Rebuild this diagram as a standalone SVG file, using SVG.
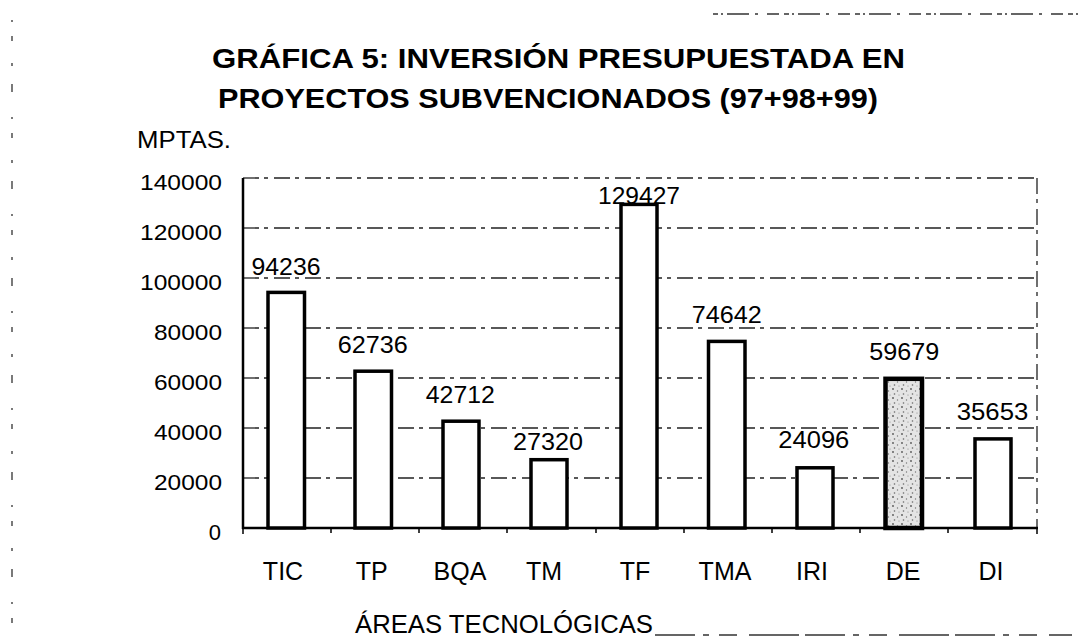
<svg xmlns="http://www.w3.org/2000/svg" width="1086" height="637" viewBox="0 0 1086 637">
  <style>
    .title { font-family: "Liberation Sans", Arial, sans-serif; font-weight: bold; font-size: 28px; fill: #000; }
    .lbl { font-family: "Liberation Sans", Arial, sans-serif; fill: #000; }
    .ytick { font-size: 22px; text-anchor: end; }
    .val { font-size: 24px; text-anchor: middle; }
    .cat { font-size: 25px; text-anchor: middle; }
    .grid { stroke: #222; stroke-width: 1.3; stroke-dasharray: 16 5 4 6; fill: none; }
    .axis { stroke: #000; stroke-width: 2.5; fill: none; }
    .tick { stroke: #000; stroke-width: 1.5; }
    .bar { fill: #fff; stroke: #000; stroke-width: 3.5; }
    .bar-de { fill: url(#stipple); stroke: #000; stroke-width: 4.5; }
    .scan { stroke: #333; stroke-width: 1.3; fill: none; }
  </style>
  <defs>
    <pattern id="stipple" width="9" height="9" patternUnits="userSpaceOnUse">
      <rect width="9" height="9" fill="#e4e4e4"/>
      <circle cx="2" cy="2" r="0.9" fill="#555"/>
      <circle cx="6.5" cy="4" r="0.7" fill="#777"/>
      <circle cx="3.5" cy="7" r="0.8" fill="#666"/>
      <circle cx="8" cy="8" r="0.6" fill="#888"/>
    </pattern>
  </defs>
  <rect width="1086" height="637" fill="#fff"/>

  <!-- scan edge marks -->
  <g id="scan-marks">
    <line class="scan" x1="713" y1="14" x2="1080" y2="14" stroke-dasharray="5 3 2 4 22 6 3 9 12 5"/>
    <line class="scan" x1="655" y1="635" x2="1072" y2="635" stroke-dasharray="40 8 6 10 18 12 50 6"/>
    <line class="scan" x1="12" y1="20" x2="12" y2="632" stroke-dasharray="2 14 5 22 3 18 8 25"/>
  </g>

  <!-- title -->
  <g id="title">
    <text class="title" x="212" y="68" textLength="693" lengthAdjust="spacingAndGlyphs">GRÁFICA 5: INVERSIÓN PRESUPUESTADA EN</text>
    <text class="title" x="218" y="108" textLength="660" lengthAdjust="spacingAndGlyphs">PROYECTOS SUBVENCIONADOS (97+98+99)</text>
  </g>

  <g id="y-unit">
    <text class="lbl" x="137" y="148" font-size="24" textLength="94" lengthAdjust="spacingAndGlyphs">MPTAS.</text>
  </g>

  <!-- grid and axes -->
  <g id="connectors">
    <line class="grid" x1="243" y1="178" x2="1037" y2="178"/>
    <line class="grid" x1="243" y1="228" x2="1037" y2="228"/>
    <line class="grid" x1="243" y1="278" x2="1037" y2="278"/>
    <line class="grid" x1="243" y1="328" x2="1037" y2="328"/>
    <line class="grid" x1="243" y1="378" x2="1037" y2="378"/>
    <line class="grid" x1="243" y1="428" x2="1037" y2="428"/>
    <line class="grid" x1="243" y1="478" x2="1037" y2="478"/>
    <line class="grid" x1="1037" y1="178" x2="1037" y2="528"/>
    <line class="axis" x1="243" y1="178" x2="243" y2="529"/>
    <line class="axis" x1="242" y1="528" x2="1038" y2="528"/>
    <line class="tick" x1="243" y1="528" x2="243" y2="534"/>
    <line class="tick" x1="331" y1="528" x2="331" y2="533"/>
    <line class="tick" x1="419" y1="528" x2="419" y2="533"/>
    <line class="tick" x1="507" y1="528" x2="507" y2="533"/>
    <line class="tick" x1="596" y1="528" x2="596" y2="533"/>
    <line class="tick" x1="684" y1="528" x2="684" y2="533"/>
    <line class="tick" x1="772" y1="528" x2="772" y2="533"/>
    <line class="tick" x1="860" y1="528" x2="860" y2="533"/>
    <line class="tick" x1="948" y1="528" x2="948" y2="533"/>
    <line class="tick" x1="1037" y1="528" x2="1037" y2="534"/>
  </g>

  <!-- y-axis labels -->
  <g id="y-axis-labels" class="lbl ytick">
    <text x="222" y="190" textLength="82" lengthAdjust="spacingAndGlyphs">140000</text>
    <text x="222" y="240" textLength="82" lengthAdjust="spacingAndGlyphs">120000</text>
    <text x="222" y="290" textLength="82" lengthAdjust="spacingAndGlyphs">100000</text>
    <text x="222" y="340" textLength="68" lengthAdjust="spacingAndGlyphs">80000</text>
    <text x="222" y="390" textLength="68" lengthAdjust="spacingAndGlyphs">60000</text>
    <text x="222" y="440" textLength="68" lengthAdjust="spacingAndGlyphs">40000</text>
    <text x="222" y="490" textLength="68" lengthAdjust="spacingAndGlyphs">20000</text>
    <text x="221" y="540">0</text>
  </g>

  <!-- bars -->
  <g id="bar-TIC">
    <rect class="bar" x="268" y="292.4" width="36.5" height="235.6"/>
    <text class="lbl val" x="286" y="275" textLength="69" lengthAdjust="spacingAndGlyphs">94236</text>
    <text class="lbl cat" x="283" y="580">TIC</text>
  </g>
  <g id="bar-TP">
    <rect class="bar" x="355" y="371.2" width="36.5" height="156.8"/>
    <text class="lbl val" x="372.7" y="352.7" textLength="70" lengthAdjust="spacingAndGlyphs">62736</text>
    <text class="lbl cat" x="371.7" y="580">TP</text>
  </g>
  <g id="bar-BQA">
    <rect class="bar" x="443" y="421.2" width="36" height="106.8"/>
    <text class="lbl val" x="460.3" y="403.3" textLength="69" lengthAdjust="spacingAndGlyphs">42712</text>
    <text class="lbl cat" x="460" y="580">BQA</text>
  </g>
  <g id="bar-TM">
    <rect class="bar" x="531" y="459.7" width="36" height="68.3"/>
    <text class="lbl val" x="548" y="449.5" textLength="70" lengthAdjust="spacingAndGlyphs">27320</text>
    <text class="lbl cat" x="544" y="580">TM</text>
  </g>
  <g id="bar-TF">
    <rect class="bar" x="621" y="204.4" width="36" height="323.6"/>
    <text class="lbl val" x="639" y="203.5" textLength="82" lengthAdjust="spacingAndGlyphs">129427</text>
    <text class="lbl cat" x="635" y="580">TF</text>
  </g>
  <g id="bar-TMA">
    <rect class="bar" x="708.5" y="341.4" width="36.5" height="186.6"/>
    <text class="lbl val" x="726.7" y="323.3" textLength="70" lengthAdjust="spacingAndGlyphs">74642</text>
    <text class="lbl cat" x="725" y="580">TMA</text>
  </g>
  <g id="bar-IRI">
    <rect class="bar" x="797" y="467.8" width="36" height="60.2"/>
    <text class="lbl val" x="813.8" y="448.3" textLength="71" lengthAdjust="spacingAndGlyphs">24096</text>
    <text class="lbl cat" x="812" y="580">IRI</text>
  </g>
  <g id="bar-DE">
    <rect class="bar-de" x="885.5" y="378.8" width="36.5" height="149.2"/>
    <text class="lbl val" x="904.3" y="360" textLength="70" lengthAdjust="spacingAndGlyphs">59679</text>
    <text class="lbl cat" x="903" y="580">DE</text>
  </g>
  <g id="bar-DI">
    <rect class="bar" x="975" y="438.9" width="36" height="89.1"/>
    <text class="lbl val" x="992.5" y="420" textLength="71.6" lengthAdjust="spacingAndGlyphs">35653</text>
    <text class="lbl cat" x="991" y="580">DI</text>
  </g>

  <g id="x-axis-title">
    <text class="lbl" x="355" y="633" font-size="25" textLength="298" lengthAdjust="spacingAndGlyphs">ÁREAS TECNOLÓGICAS</text>
  </g>
</svg>
